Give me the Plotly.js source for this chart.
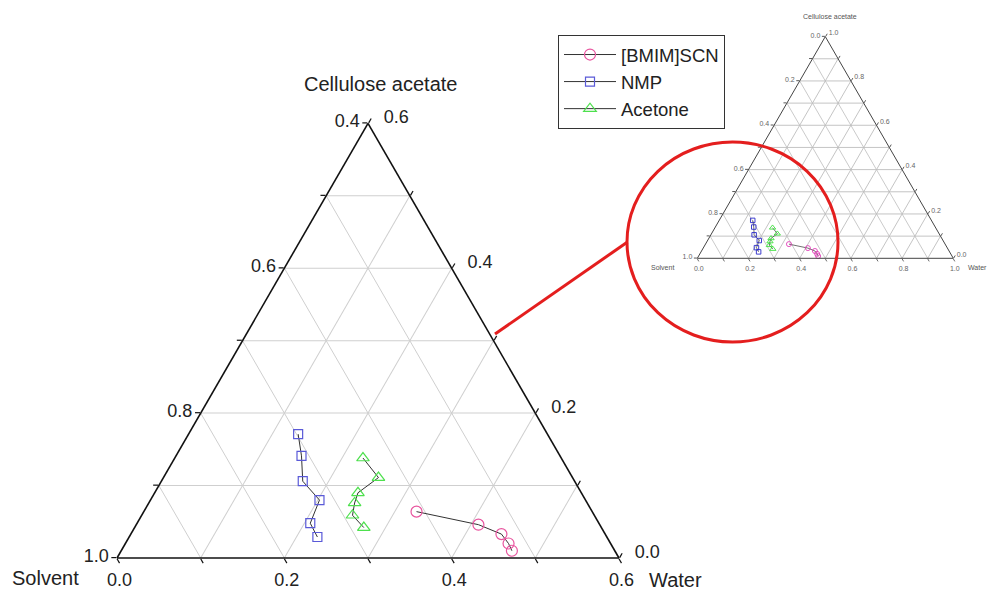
<!DOCTYPE html>
<html>
<head>
<meta charset="utf-8">
<script src="https://cdn.plot.ly/plotly-3.0.1.min.js"></script>
<style>html,body{margin:0;padding:0;background:#fff;}#chart{width:997px;height:590px;}</style>
</head>
<body>
<div id="chart"></div>
<script>
// ---- data (mass fractions) ----
const seriesNames = ["[BMIM]SCN", "NMP", "Acetone"];
const bmimCA      = [0.064, 0.046, 0.033, 0.020, 0.010];
const bmimWater   = [0.326, 0.409, 0.443, 0.458, 0.467];
const bmimSolvent = [0.610, 0.545, 0.524, 0.522, 0.523];
const nmpCA       = [0.171, 0.141, 0.106, 0.080, 0.048, 0.029];
const nmpWater    = [0.131, 0.150, 0.169, 0.202, 0.207, 0.225];
const nmpSolvent  = [0.698, 0.709, 0.725, 0.718, 0.745, 0.746];
const aceCA       = [0.138, 0.111, 0.090, 0.076, 0.059, 0.042];
const aceWater    = [0.225, 0.257, 0.243, 0.246, 0.252, 0.274];
const aceSolvent  = [0.637, 0.632, 0.667, 0.678, 0.689, 0.684];

// ---- axis titles ----
const titleCA = "Cellulose acetate";
const titleSolvent = "Solvent";
const titleWater = "Water";

// ---- tick values / labels ----
// main (zoomed) triangle: CA 0-0.6, Solvent 0.4-1.0, Water 0-0.6
const mainCAVals      = [0, 0.1, 0.2, 0.3, 0.4, 0.5, 0.6];
const mainCALeftText  = ["1.0", "", "0.8", "", "0.6", "", "0.4"];      // solvent read on left edge
const mainSolvVals    = [0.4, 0.5, 0.6, 0.7, 0.8, 0.9, 1.0];
const mainSolvText    = ["0.6", "", "0.4", "", "0.2", "", "0.0"];      // water read on bottom edge
const mainWaterVals   = [0, 0.1, 0.2, 0.3, 0.4, 0.5, 0.6];
const mainWaterText   = ["0.6", "", "0.4", "", "0.2", "", "0.0"];      // CA read on right edge
// inset (full) triangle
const insetVals = [0, 0.1, 0.2, 0.3, 0.4, 0.5, 0.6, 0.7, 0.8, 0.9, 1.0];
const insetText = ["1.0", "", "0.8", "", "0.6", "", "0.4", "", "0.2", "", "0.0"];

const FONT = "Arial, 'Liberation Sans', sans-serif";
const colMain = {bmim: "#e8559f", nmp: "#5a5ad8", ace: "#4ee04e"};
const colInset = {bmim: "#e040b8", nmp: "#2a2ac8", ace: "#3ce03c"};
const NB = "\u00a0\u00a0";

function mk(name, a, b, c, color, symbol, size, subplot, legend, lw) {
  return {
    type: "scatterternary", mode: "lines+markers", name: name,
    a: a, b: b, c: c, subplot: subplot, showlegend: legend,
    line: {color: "#333333", width: lw},
    marker: {symbol: symbol, size: size, color: color, line: {color: color, width: legend ? 1.2 : 0.9}},
    cliponaxis: false, hoverinfo: "skip"
  };
}

const data = [
  mk(seriesNames[0], bmimCA, bmimSolvent, bmimWater, colMain.bmim, "circle-open", 11, "ternary", true, 1),
  mk(seriesNames[1], nmpCA, nmpSolvent, nmpWater, colMain.nmp, "square-open", 9, "ternary", true, 1),
  mk(seriesNames[2], aceCA, aceSolvent, aceWater, colMain.ace, "triangle-up-open", 11, "ternary", true, 1),
  mk(seriesNames[0], bmimCA, bmimSolvent, bmimWater, colInset.bmim, "circle-open", 5, "ternary2", false, 0.7),
  mk(seriesNames[1], nmpCA, nmpSolvent, nmpWater, colInset.nmp, "square-open", 4.5, "ternary2", false, 0.7),
  mk(seriesNames[2], aceCA, aceSolvent, aceWater, colInset.ace, "triangle-up-open", 5.5, "ternary2", false, 0.7)
];

function mainAxis(min, vals, text) {
  return {
    title: {text: ""},
    min: min, tickmode: "array", tickvals: vals, ticktext: text,
    tickfont: {family: FONT, size: 18, color: "#222"},
    ticks: "outside", ticklen: 5, tickcolor: "#111", tickwidth: 1.2,
    showline: true, linecolor: "#111", linewidth: 1.6,
    showgrid: true, gridcolor: "#cfcfcf", gridwidth: 1
  };
}
function insetAxis() {
  return {
    title: {text: ""},
    min: 0, tickmode: "array", tickvals: insetVals, ticktext: insetText,
    tickfont: {family: FONT, size: 7, color: "#666"},
    ticks: "outside", ticklen: 3, tickcolor: "#444", tickwidth: 0.8,
    showline: true, linecolor: "#444", linewidth: 1,
    showgrid: true, gridcolor: "#bdbdbd", gridwidth: 0.8
  };
}

function ann(text, x, y, size, xanchor, color) {
  return {text: text, xref: "paper", yref: "paper", x: x / 997, y: 1 - y / 590,
          xanchor: xanchor, yanchor: "middle", showarrow: false,
          font: {family: FONT, size: size, color: color}};
}

const layout = {
  width: 997, height: 590,
  margin: {l: 0, r: 0, t: 0, b: 0},
  paper_bgcolor: "#ffffff",
  font: {family: FONT, color: "#222"},
  ternary: {
    sum: 1, bgcolor: "#ffffff",
    domain: {x: [117 / 997, 619 / 997], y: [32 / 590, 466.7 / 590]},
    aaxis: mainAxis(0, mainCAVals, mainCALeftText),
    baxis: mainAxis(0.4, mainSolvVals, mainSolvText),
    caxis: mainAxis(0, mainWaterVals, mainWaterText.map(t => t ? NB + t : t))
  },
  ternary2: {
    sum: 1, bgcolor: "#ffffff",
    domain: {x: [697.3 / 997, 953.3 / 997], y: [331.7 / 590, 553.4 / 590]},
    aaxis: insetAxis(),
    baxis: insetAxis(),
    caxis: insetAxis()
  },
  showlegend: true,
  legend: {
    x: 558 / 997, y: 1 - 35 / 590, xanchor: "left", yanchor: "top",
    bgcolor: "#ffffff", bordercolor: "#333", borderwidth: 1,
    font: {family: FONT, size: 18.5, color: "#222"},
    itemwidth: 52, tracegroupgap: 0
  },
  annotations: [
    ann(titleCA, 380, 84, 20, "center", "#222"),
    ann(titleSolvent, 10, 578, 20, "left", "#222"),
    ann(titleWater, 647, 580, 20, "left", "#222"),
    ann(titleCA, 830, 17, 7, "center", "#555"),
    ann(titleSolvent, 676, 268, 7, "right", "#555"),
    ann(titleWater, 966, 268, 7, "left", "#555")
  ],
  shapes: [
    {type: "circle", xref: "paper", yref: "paper",
     x0: 627 / 997, x1: 838 / 997, y0: 1 - 342 / 590, y1: 1 - 142 / 590,
     line: {color: "#e41e1e", width: 3}},
    {type: "line", xref: "paper", yref: "paper",
     x0: 495 / 997, y0: 1 - 334 / 590, x1: 627.5 / 997, y1: 1 - 242 / 590,
     line: {color: "#e41e1e", width: 3}}
  ]
};

Plotly.newPlot("chart", data, layout, {displayModeBar: false, staticPlot: true});
</script>
</body>
</html>
